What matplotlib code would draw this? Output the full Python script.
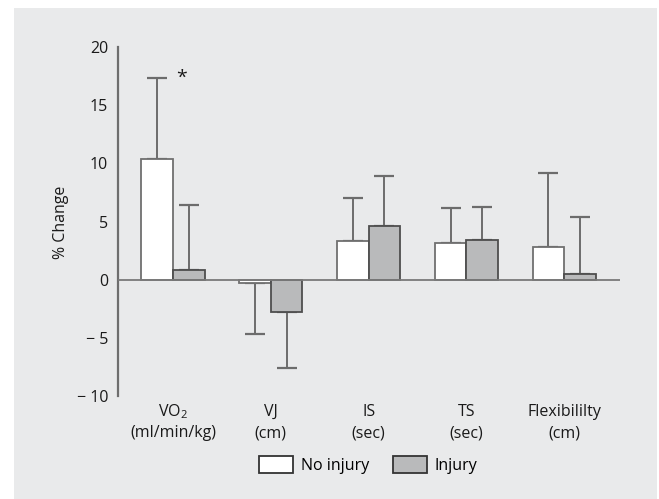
import matplotlib
matplotlib.use("Agg")
import matplotlib.pyplot as plt
from matplotlib.patches import Rectangle, Patch
from matplotlib.transforms import blended_transform_factory
import numpy as np

plt.rcParams['font.family'] = ['Open Sans', 'DejaVu Sans']
plt.rcParams['mathtext.fontset'] = 'custom'
plt.rcParams['mathtext.rm'] = 'Open Sans'
plt.rcParams['mathtext.it'] = 'Open Sans'

categories_top = ["VO$_\\mathregular{2}$", "VJ", "IS", "TS", "Flexibililty"]
categories_bottom = ["(ml/min/kg)", "(cm)", "(sec)", "(sec)", "(cm)"]
no_injury = [10.4, -0.3, 3.3, 3.15, 2.85]
no_injury_err = [6.9, 4.4, 3.7, 3.0, 6.35]
injury = [0.85, -2.75, 4.65, 3.45, 0.45]
injury_err = [5.55, 4.85, 4.3, 2.8, 4.9]
yticks = [-10, -5, 0, 5, 10, 15, 20]
yticklabels = ["\u2212 10", "\u2212 5", "0", "5", "10", "15", "20"]
series_names = ["No injury", "Injury"]

W, H = 659, 499
fig = plt.figure(figsize=(W / 100, H / 100), dpi=100, facecolor='white')
bg = '#e9eaeb'
fig.patches.append(Rectangle((14 / W, 0), (657 - 14) / W, (499 - 8) / H,
                             transform=fig.transFigure, facecolor=bg,
                             edgecolor='none', zorder=-10))

ax = fig.add_axes([118 / W, 1 - 396 / H, (620 - 118) / W, (396 - 47) / H])
ax.set_facecolor('none')
ax.set_zorder(5)

x = np.arange(len(categories_top))
w = 0.323
gray = '#6c6c6c'
white_edge = '#707070'
inj_fill = '#b9babb'
inj_edge = '#4e4e4e'

ax.bar(x - w / 2, no_injury, width=w, color='white', edgecolor=white_edge,
       linewidth=1.3, zorder=3)
ax.bar(x + w / 2, injury, width=w, color=inj_fill, edgecolor=inj_edge,
       linewidth=1.3, zorder=3)


def one_sided(vals, errs):
    lo = [0 if v >= 0 else e for v, e in zip(vals, errs)]
    hi = [e if v >= 0 else 0 for v, e in zip(vals, errs)]
    return [lo, hi]


ax.errorbar(x - w / 2, no_injury, yerr=one_sided(no_injury, no_injury_err),
            fmt='none', ecolor=gray, elinewidth=1.4, capsize=7, capthick=1.6,
            zorder=2)
ax.errorbar(x + w / 2, injury, yerr=one_sided(injury, injury_err),
            fmt='none', ecolor=gray, elinewidth=1.4, capsize=7, capthick=1.6,
            zorder=2)

ax.axhline(0, color='#7a7a7a', linewidth=1.3, zorder=4)

ax.set_xlim(-0.562, 4.57)
ax.set_ylim(-10, 20)
ax.set_yticks(yticks)
ax.set_yticklabels(yticklabels, fontsize=11.5, color='#1a1a1a')
ax.tick_params(axis='y', length=0, pad=7)
ax.set_xticks([])
for s in ['top', 'right', 'bottom']:
    ax.spines[s].set_visible(False)
ax.spines['left'].set_color('#6e6e6e')
ax.spines['left'].set_linewidth(1.6)

# category labels (two lines)
trans = blended_transform_factory(ax.transData, fig.transFigure)
for i in range(len(x)):
    ax.text(x[i], 1 - 412 / H, categories_top[i], transform=trans,
            ha='center', va='center', fontsize=11.5, color='#1a1a1a')
    ax.text(x[i], 1 - 433 / H, categories_bottom[i], transform=trans,
            ha='center', va='center', fontsize=11.5, color='#1a1a1a')

# significance marker
ax.text(0.085, 17.35, "*", ha='center', va='center', fontsize=14,
        color='#1a1a1a')

# y label
fig.text(61.5 / W, 1 - 222 / H, "% Change", rotation=90, ha='center',
         va='center', fontsize=11.5, color='#1a1a1a')

# legend
handles = [Patch(facecolor='white', edgecolor='#333333', linewidth=1.3),
           Patch(facecolor=inj_fill, edgecolor='#333333', linewidth=1.3)]
fig.legend(handles, series_names, loc='center', ncol=2,
           bbox_to_anchor=(368.5 / W, 1 - 465 / H), frameon=False,
           fontsize=11.5, handlelength=2.1, handleheight=1.25,
           handletextpad=0.5, columnspacing=1.5, borderpad=0,
           borderaxespad=0)

fig.savefig("out.png", dpi=100, facecolor=fig.get_facecolor())
